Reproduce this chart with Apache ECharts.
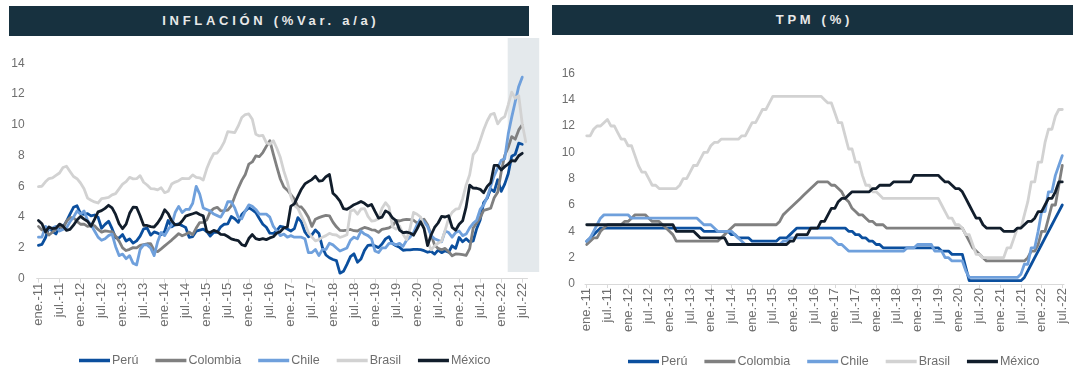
<!DOCTYPE html>
<html>
<head>
<meta charset="utf-8">
<script src="https://cdn.jsdelivr.net/npm/echarts@6/dist/echarts.min.js"></script>
<style>
  html, body { margin: 0; padding: 0; background: #ffffff; }
  #wrap { position: relative; width: 1080px; height: 387px; overflow: hidden; }
  #chart { position: absolute; left: 0; top: 0; width: 1080px; height: 387px; }
  .hdr { position: absolute; background: #17313f; color: #e8e8e8; font-family: "Liberation Sans", Arial, sans-serif;
         font-weight: bold; font-size: 13px; letter-spacing: 3.7px; text-align: center; box-sizing: border-box;
         padding-left: 3.7px; z-index: 5; }
</style>
</head>
<body>
<div id="wrap">
  <div id="chart"></div>
  <div class="hdr" style="left:9px;top:6px;width:520px;height:30px;line-height:30px;">INFLACIÓN (%Var. a/a)</div>
  <div class="hdr" style="left:552px;top:5px;width:521px;height:30px;line-height:30px;">TPM (%)</div>
</div>
<script>
// ---------- categories ----------
const monthAbbr = ['ene.','feb.','mar.','abr.','may.','jun.','jul.','ago.','sep.','oct.','nov.','dic.'];
const years = ['11','12','13','14','15','16','17','18','19','20','21','22'];
const seriesNames = ['Perú','Colombia','Chile','Brasil','México'];
const seriesColors = ['#0b4f9e','#808080','#6fa0dc','#d2d2d2','#111d2b'];

// ---------- Inflación (% var. a/a), ene-11 .. ago-22 ----------
const inflPeru = [
 2.17,2.23,2.66,3.34,3.07,2.91,3.35,3.35,3.73,4.20,4.64,4.74,
 4.23,4.18,4.23,4.08,4.14,4.00,3.28,3.53,3.74,3.25,2.66,2.65,
 2.87,2.45,2.59,2.31,2.46,2.77,3.24,3.28,2.83,3.04,2.96,2.86,
 3.07,3.78,3.38,3.52,3.56,3.45,3.33,2.69,2.74,3.09,3.16,3.22,
 3.07,2.77,3.02,3.02,3.37,3.54,3.56,4.04,3.90,3.66,4.17,4.40,
 4.61,4.47,4.30,3.91,3.54,3.34,2.96,2.94,3.13,3.41,3.35,3.23,
 3.10,3.25,3.97,3.69,3.04,2.73,2.85,3.17,2.94,2.04,1.54,1.36,
 1.25,1.18,0.36,0.48,0.93,1.43,1.62,1.07,1.28,1.84,2.17,2.19,
 2.13,2.02,2.25,2.59,2.73,2.29,2.14,2.04,1.85,1.87,1.87,1.90,
 1.90,1.89,1.82,1.72,1.78,1.60,1.86,1.69,1.82,1.72,2.14,1.97,
 2.68,2.40,2.60,2.38,2.45,3.25,3.81,4.95,5.23,5.83,5.66,6.43,
 5.68,6.15,6.82,7.96,8.09,8.81,8.74,null];
const inflColombia = [
 3.40,3.17,3.19,2.84,3.02,3.23,3.42,3.27,3.73,3.96,3.96,3.73,
 3.54,3.55,3.40,3.43,3.44,3.20,3.03,3.11,3.08,3.06,2.77,2.44,
 2.00,1.83,1.91,2.02,2.00,2.16,2.22,2.27,2.27,1.84,1.76,1.94,
 2.13,2.32,2.51,2.72,2.93,2.79,2.89,3.02,2.86,3.29,3.65,3.66,
 3.82,4.36,4.56,4.64,4.41,4.42,4.46,4.74,5.35,5.89,6.39,6.77,
 7.45,7.59,7.98,7.93,8.20,8.60,8.97,8.10,7.27,6.48,5.96,5.75,
 5.47,5.18,4.69,4.66,4.37,3.99,3.40,3.87,3.97,4.05,4.12,4.09,
 3.68,3.37,3.14,3.13,3.16,3.20,3.12,3.10,3.23,3.33,3.27,3.18,
 3.15,3.01,3.21,3.25,3.31,3.43,3.79,3.75,3.82,3.86,3.84,3.80,
 3.62,3.72,3.86,3.51,2.85,2.19,1.97,1.88,1.97,1.75,1.49,1.61,
 1.60,1.56,1.51,1.95,3.30,3.63,3.97,4.44,4.51,4.58,5.26,5.62,
 6.94,8.01,8.53,9.23,9.07,9.67,10.0,null];
const inflChile = [
 2.7,2.7,3.4,3.2,3.3,3.4,3.1,3.2,3.3,3.7,4.0,4.4,
 4.2,4.4,3.8,3.5,3.1,2.7,2.5,2.6,2.8,2.9,2.1,1.5,
 1.6,1.3,1.5,1.0,0.9,1.9,2.2,2.2,2.0,1.5,2.4,3.0,
 2.8,3.2,3.5,4.3,4.7,4.3,4.5,4.5,4.9,6.0,5.5,4.6,
 4.5,4.4,4.2,4.1,4.0,4.4,5.0,5.0,4.6,4.0,3.9,4.4,
 4.8,4.7,4.5,4.2,4.2,4.2,4.0,3.4,3.1,2.8,2.9,2.7,
 2.8,2.7,2.7,2.7,2.6,1.7,1.7,1.9,1.5,1.9,1.9,2.3,
 2.2,2.0,1.8,1.9,2.0,2.5,2.7,2.6,3.1,2.9,2.8,2.6,
 1.8,1.7,2.0,2.0,2.3,2.3,2.2,2.3,2.1,2.5,2.7,3.0,
 3.5,3.9,3.7,3.4,2.8,2.6,2.5,2.4,3.1,3.0,2.7,3.0,
 3.1,2.8,2.9,3.3,3.6,3.8,4.5,4.8,5.3,6.0,6.7,7.2,
 7.7,7.8,9.4,10.5,11.5,12.5,13.1,null];
const inflBrasil = [
 5.99,6.01,6.30,6.51,6.55,6.71,6.87,7.23,7.31,6.97,6.64,6.50,
 6.22,5.85,5.24,5.10,4.99,4.92,5.20,5.24,5.28,5.45,5.53,5.84,
 6.15,6.31,6.59,6.49,6.50,6.70,6.27,6.09,5.86,5.84,5.77,5.91,
 5.59,5.68,6.15,6.28,6.37,6.52,6.50,6.51,6.75,6.59,6.56,6.41,
 7.14,7.70,8.13,8.17,8.47,8.89,9.56,9.53,9.49,9.93,10.48,10.67,
 10.71,10.36,9.39,9.28,9.32,8.84,8.74,8.97,8.48,7.87,6.99,6.29,
 5.35,4.76,4.57,4.08,3.60,3.00,2.71,2.46,2.54,2.70,2.80,2.95,
 2.86,2.84,2.68,2.76,2.86,4.39,4.48,4.19,4.53,4.56,4.05,3.75,
 3.78,3.89,4.58,4.94,4.66,3.37,3.22,3.43,2.89,2.54,3.27,4.31,
 4.19,4.01,3.30,2.40,1.88,2.13,2.31,2.44,3.14,3.92,4.31,4.52,
 4.56,5.20,6.10,6.76,8.06,8.35,8.99,9.68,10.25,10.67,10.74,10.06,
 10.38,10.54,11.30,12.13,11.73,11.89,10.07,8.90];
const inflMexico = [
 3.78,3.57,3.04,3.36,3.25,3.28,3.55,3.42,3.14,3.20,3.48,3.82,
 4.05,3.87,3.73,3.41,3.85,4.34,4.42,4.57,4.77,4.60,4.18,3.57,
 3.25,3.55,4.25,4.65,4.63,4.09,3.47,3.46,3.39,3.36,3.62,3.97,
 4.48,4.23,3.76,3.50,3.51,3.75,4.07,4.15,4.22,4.30,4.17,4.08,
 3.07,3.00,3.14,3.06,2.88,2.87,2.74,2.59,2.52,2.48,2.21,2.13,
 2.61,2.87,2.60,2.54,2.60,2.54,2.65,2.73,2.97,3.06,3.31,3.36,
 4.72,4.86,5.35,5.82,6.16,6.31,6.44,6.66,6.35,6.37,6.63,6.77,
 5.55,5.34,5.04,4.55,4.51,4.65,4.81,4.90,5.02,4.90,4.72,4.83,
 4.37,3.94,4.00,4.41,4.28,3.95,3.78,3.16,3.00,3.02,2.97,2.83,
 3.24,3.70,3.25,2.15,2.84,3.33,3.62,4.05,4.01,4.09,3.33,3.15,
 3.54,3.76,4.67,6.08,5.89,5.88,5.81,5.59,6.00,6.24,7.37,7.36,
 7.07,7.28,7.45,7.68,7.65,7.99,8.15,null];

// ---------- TPM (%), ene-11 .. jul-22 ----------
const tpmPeru = [
 3.25,3.5,3.75,4.0,4.25,4.25,4.25,4.25,4.25,4.25,4.25,4.25,
 4.25,4.25,4.25,4.25,4.25,4.25,4.25,4.25,4.25,4.25,4.25,4.25,
 4.25,4.25,4.25,4.25,4.25,4.25,4.25,4.25,4.25,4.25,4.0,4.0,
 4.0,4.0,4.0,4.0,4.0,4.0,3.75,3.75,3.5,3.5,3.5,3.5,
 3.25,3.25,3.25,3.25,3.25,3.25,3.25,3.25,3.5,3.5,3.5,3.75,
 4.0,4.25,4.25,4.25,4.25,4.25,4.25,4.25,4.25,4.25,4.25,4.25,
 4.25,4.25,4.25,4.25,4.0,4.0,3.75,3.75,3.5,3.5,3.25,3.25,
 3.0,3.0,2.75,2.75,2.75,2.75,2.75,2.75,2.75,2.75,2.75,2.75,
 2.75,2.75,2.75,2.75,2.75,2.75,2.75,2.5,2.5,2.5,2.25,2.25,
 2.25,2.25,1.25,0.25,0.25,0.25,0.25,0.25,0.25,0.25,0.25,0.25,
 0.25,0.25,0.25,0.25,0.25,0.25,0.25,0.5,1.0,1.5,2.0,2.5,
 3.0,3.5,4.0,4.5,5.0,5.5,6.0];
const tpmColombia = [
 3.0,3.25,3.5,3.5,4.0,4.25,4.5,4.5,4.5,4.5,4.5,4.75,
 4.75,5.0,5.25,5.25,5.25,5.25,5.0,4.75,4.75,4.75,4.5,4.25,
 4.0,3.75,3.25,3.25,3.25,3.25,3.25,3.25,3.25,3.25,3.25,3.25,
 3.25,3.25,3.25,3.5,3.75,4.0,4.25,4.5,4.5,4.5,4.5,4.5,
 4.5,4.5,4.5,4.5,4.5,4.5,4.5,4.5,4.75,5.25,5.5,5.75,
 6.0,6.25,6.5,6.75,7.0,7.25,7.5,7.75,7.75,7.75,7.75,7.5,
 7.5,7.25,7.0,6.5,6.25,5.75,5.5,5.25,5.25,5.0,4.75,4.75,
 4.5,4.5,4.5,4.25,4.25,4.25,4.25,4.25,4.25,4.25,4.25,4.25,
 4.25,4.25,4.25,4.25,4.25,4.25,4.25,4.25,4.25,4.25,4.25,4.25,
 4.25,4.25,3.75,3.25,2.75,2.5,2.25,2.0,1.75,1.75,1.75,1.75,
 1.75,1.75,1.75,1.75,1.75,1.75,1.75,1.75,2.0,2.5,2.5,3.0,
 4.0,4.0,5.0,6.0,6.0,7.5,9.0];
const tpmChile = [
 3.25,3.5,4.0,4.5,5.0,5.25,5.25,5.25,5.25,5.25,5.25,5.25,
 5.25,5.0,5.0,5.0,5.0,5.0,5.0,5.0,5.0,5.0,5.0,5.0,
 5.0,5.0,5.0,5.0,5.0,5.0,5.0,5.0,5.0,4.75,4.5,4.5,
 4.5,4.25,4.0,4.0,4.0,4.0,4.0,3.75,3.5,3.25,3.0,3.0,
 3.0,3.0,3.0,3.0,3.0,3.0,3.0,3.0,3.0,3.25,3.25,3.5,
 3.5,3.5,3.5,3.5,3.5,3.5,3.5,3.5,3.5,3.5,3.5,3.5,
 3.25,3.0,3.0,2.75,2.5,2.5,2.5,2.5,2.5,2.5,2.5,2.5,
 2.5,2.5,2.5,2.5,2.5,2.5,2.5,2.5,2.5,2.75,2.75,2.75,
 3.0,3.0,3.0,3.0,3.0,2.5,2.5,2.5,2.0,2.0,1.75,1.75,
 1.75,1.75,1.0,0.5,0.5,0.5,0.5,0.5,0.5,0.5,0.5,0.5,
 0.5,0.5,0.5,0.5,0.5,0.5,0.75,1.5,1.5,2.75,2.75,4.0,
 5.5,5.5,7.0,7.0,8.25,9.0,9.75];
const tpmBrasil = [
 11.25,11.25,11.75,12.0,12.0,12.25,12.5,12.0,12.0,11.5,11.0,11.0,
 10.5,10.5,9.75,9.0,8.5,8.5,8.0,7.5,7.5,7.25,7.25,7.25,
 7.25,7.25,7.25,7.5,8.0,8.0,8.5,9.0,9.0,9.5,10.0,10.0,
 10.5,10.75,10.75,11.0,11.0,11.0,11.0,11.0,11.0,11.25,11.25,11.75,
 12.25,12.25,12.75,13.25,13.25,13.75,14.25,14.25,14.25,14.25,14.25,14.25,
 14.25,14.25,14.25,14.25,14.25,14.25,14.25,14.25,14.25,14.0,13.75,13.75,
 13.0,12.25,12.25,11.25,10.25,10.25,9.25,9.25,8.25,7.5,7.5,7.0,
 7.0,6.75,6.5,6.5,6.5,6.5,6.5,6.5,6.5,6.5,6.5,6.5,
 6.5,6.5,6.5,6.5,6.5,6.5,6.5,6.0,5.5,5.0,5.0,4.5,
 4.5,4.25,3.75,3.75,3.0,2.25,2.25,2.0,2.0,2.0,2.0,2.0,
 2.0,2.0,2.75,2.75,3.5,4.25,4.25,5.25,6.25,7.75,7.75,9.25,
 9.25,10.75,11.75,11.75,12.75,13.25,13.25];
const tpmMexico = [
 4.5,4.5,4.5,4.5,4.5,4.5,4.5,4.5,4.5,4.5,4.5,4.5,
 4.5,4.5,4.5,4.5,4.5,4.5,4.5,4.5,4.5,4.5,4.5,4.5,
 4.5,4.5,4.0,4.0,4.0,4.0,4.0,4.0,3.75,3.5,3.5,3.5,
 3.5,3.5,3.5,3.5,3.5,3.0,3.0,3.0,3.0,3.0,3.0,3.0,
 3.0,3.0,3.0,3.0,3.0,3.0,3.0,3.0,3.0,3.0,3.0,3.25,
 3.25,3.75,3.75,3.75,3.75,4.25,4.25,4.25,4.75,4.75,5.25,5.75,
 5.75,6.25,6.5,6.5,6.75,7.0,7.0,7.0,7.0,7.0,7.0,7.25,
 7.25,7.5,7.5,7.5,7.5,7.75,7.75,7.75,7.75,7.75,7.75,8.25,
 8.25,8.25,8.25,8.25,8.25,8.25,8.25,8.0,7.75,7.75,7.5,7.25,
 7.25,7.0,6.5,6.0,5.5,5.0,5.0,4.5,4.25,4.25,4.25,4.25,
 4.25,4.0,4.0,4.0,4.0,4.25,4.25,4.5,4.75,4.75,5.0,5.5,
 5.5,6.0,6.5,6.5,7.0,7.75,7.75];

// axis tick labels
const inflYTicks = { min: 0, max: 14, interval: 2 };
const tpmYTicks = { min: 0, max: 16, interval: 2 };

// build category labels
const catInfl = [];
years.forEach(y => monthAbbr.forEach(m => catInfl.push(m + '-' + y)));
catInfl.length = 140; // ene.-11 .. ago.-22
const catTpm = catInfl.slice(0, 139); // ene.-11 .. jul.-22

const inflData = [inflPeru, inflColombia, inflChile, inflBrasil, inflMexico];
const tpmData = [tpmPeru, tpmColombia, tpmChile, tpmBrasil, tpmMexico];

const FONT = '"Liberation Sans", Arial, sans-serif';
const labelColor = '#6e6e6e';

function xAxisFor(gridIndex, cats) {
  return {
    type: 'category', gridIndex, data: cats, boundaryGap: true,
    axisLine: { show: true, lineStyle: { color: '#d9d9d9', width: 1 } },
    axisTick: { show: true, alignWithLabel: true, interval: 5, length: 4, lineStyle: { color: '#d9d9d9' } },
    axisLabel: { interval: 5, rotate: 90, margin: 4, color: labelColor, fontFamily: FONT, fontSize: 13 },
    splitLine: { show: false }
  };
}
function yAxisFor(gridIndex, t, margin) {
  return {
    type: 'value', gridIndex, min: t.min, max: t.max, interval: t.interval,
    axisLine: { show: false }, axisTick: { show: false }, splitLine: { show: false },
    axisLabel: { color: labelColor, fontFamily: FONT, fontSize: 12, margin }
  };
}
function legendFor(left, top) {
  return {
    data: seriesNames, left, top, orient: 'horizontal',
    icon: 'rect', itemWidth: 31, itemHeight: 3.5, itemGap: 17,
    textStyle: { color: labelColor, fontFamily: FONT, fontSize: 12.5, padding: [0, 0, 0, -3] }
  };
}

const series = [];
seriesNames.forEach((name, i) => {
  series.push({
    name, type: 'line', xAxisIndex: 0, yAxisIndex: 0, data: inflData[i],
    showSymbol: false, symbol: 'none', smooth: false, connectNulls: false,
    lineStyle: { color: seriesColors[i], width: 2.8, cap: 'round', join: 'round' },
    itemStyle: { color: seriesColors[i] }, emphasis: { disabled: true }
  });
});
seriesNames.forEach((name, i) => {
  series.push({
    name, type: 'line', xAxisIndex: 1, yAxisIndex: 1, data: tpmData[i],
    showSymbol: false, symbol: 'none', smooth: false,
    lineStyle: { color: seriesColors[i], width: 2.8, cap: 'round', join: 'round' },
    itemStyle: { color: seriesColors[i] }, emphasis: { disabled: true }
  });
});

const chart = echarts.init(document.getElementById('chart'), null, { renderer: 'canvas' });
chart.setOption({
  animation: false,
  backgroundColor: '#ffffff',
  grid: [
    { left: 36.7, right: 552.5, top: 63.3, bottom: 108.3, containLabel: false },
    { left: 585, right: 16, top: 73.3, bottom: 103, containLabel: false }
  ],
  xAxis: [xAxisFor(0, catInfl), xAxisFor(1, catTpm)],
  yAxis: [yAxisFor(0, inflYTicks, 12), yAxisFor(1, tpmYTicks, 10)],
  legend: [legendFor(74, 349), legendFor(623, 350)],
  graphic: [
    { type: 'rect', z: -10, silent: true, shape: { x: 507.7, y: 38, width: 31.5, height: 234 }, style: { fill: '#e4e9ec' } }
  ],
  series
});
</script>
</body>
</html>
